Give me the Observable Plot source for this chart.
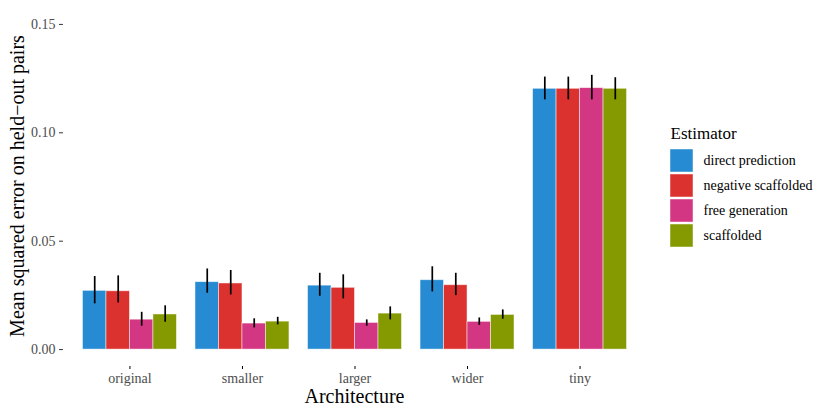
<!DOCTYPE html>
<html>
<head>
<meta charset="utf-8">
<script src="https://cdn.jsdelivr.net/npm/d3@7"></script>
<script src="https://cdn.jsdelivr.net/npm/@observablehq/plot@0.6"></script>
<style>
  body { margin: 0; background: #fff; }
  #wrap { position: relative; width: 830px; height: 415px; font-family: "Liberation Serif", "DejaVu Serif", serif; }
  #wrap > svg { position: absolute; left: 0; top: 0; }
  #wrap > svg.leg { left: 670px; top: 122px; }
  .title { position: absolute; color: #000; font-size: 20px; white-space: nowrap; font-family: "Liberation Serif", serif; }
  #xtitle { left: 0; width: 709px; top: 385px; text-align: center; }
  #ytitle { left: 17px; top: 186px; transform: translate(-50%, -50%) rotate(-90deg); }
</style>
</head>
<body>
<div id="wrap">
  <div id="xtitle" class="title">Architecture</div>
  <div id="ytitle" class="title">Mean squared error on held−out pairs</div>
</div>
<script>
// ---- data ----
const groups = ["original", "smaller", "larger", "wider", "tiny"];
const estimators = ["direct prediction", "negative scaffolded", "free generation", "scaffolded"];
const colors = ["#268bd2", "#dc322f", "#d33682", "#859900"];
const legendTitle = "Estimator";
// mean values per estimator (rows) across groups (columns)
const means = [
  [0.0271, 0.0311, 0.0295, 0.0320, 0.1203],
  [0.0269, 0.0305, 0.0285, 0.0297, 0.1203],
  [0.0138, 0.0120, 0.0123, 0.0128, 0.1206],
  [0.0162, 0.0129, 0.0166, 0.0160, 0.1203]
];
const lowers = [
  [0.0211, 0.0260, 0.0246, 0.0266, 0.1152],
  [0.0215, 0.0252, 0.0234, 0.0249, 0.1152],
  [0.0108, 0.0100, 0.0108, 0.0112, 0.1152],
  [0.0126, 0.0114, 0.0137, 0.0140, 0.1152]
];
const uppers = [
  [0.0337, 0.0372, 0.0352, 0.0382, 0.1257],
  [0.0340, 0.0365, 0.0345, 0.0352, 0.1257],
  [0.0172, 0.0142, 0.0137, 0.0146, 0.1265],
  [0.0202, 0.0149, 0.0197, 0.0183, 0.1254]
];
const yTicks = [0, 0.05, 0.10, 0.15];

// ---- table ----
const rows = [];
estimators.forEach((e, i) => groups.forEach((g, j) => {
  rows.push({group: g, estimator: e, mean: means[i][j], lo: lowers[i][j], hi: uppers[i][j]});
}));

const serif = '"Liberation Serif", serif';

const chart = Plot.plot({
  width: 830,
  height: 415,
  marginLeft: 63,
  marginRight: 184,
  marginTop: 7,
  marginBottom: 49,
  style: {fontFamily: serif, fontSize: "14px", background: "transparent"},
  fx: {domain: groups, paddingInner: 0.165, paddingOuter: 0.173, round: false, axis: "bottom", label: null, tickSize: 3, tickPadding: 4},
  x: {domain: estimators, axis: null, padding: 0, round: false},
  y: {domain: [-0.0078, 0.1578], label: null},
  color: {domain: estimators, range: colors},
  marks: [
    Plot.axisY(yTicks, {tickFormat: ".2f", tickSize: 4, tickPadding: 4, dx: -19.5, label: null, fill: "#4d4d4d", stroke: "#333"}),
    Plot.barY(rows, {fx: "group", x: "estimator", y: "mean", fill: "estimator", stroke: "white", strokeOpacity: 0.6, strokeWidth: 0.8}),
    Plot.ruleX(rows, {fx: "group", x: "estimator", y1: "lo", y2: "hi", stroke: "black", strokeWidth: 1.7})
  ]
});
document.getElementById("wrap").prepend(chart);
chart.querySelectorAll('g[aria-label="fx-axis tick label"], g[aria-label="fx-axis tick label"] text').forEach(n => n.setAttribute("fill", "#4d4d4d"));
chart.querySelectorAll('g[aria-label="fx-axis tick"]').forEach(n => n.setAttribute("stroke", "#333"));

// legend, drawn with Plot
const legend = Plot.plot({
  width: 160, height: 128,
  marginTop: 26, marginBottom: 2, marginLeft: 0, marginRight: 0,
  style: {fontFamily: serif, fontSize: "14px", background: "transparent"},
  x: {type: "band", domain: ["swatch"], range: [0, 23], padding: 0, axis: null},
  y: {domain: estimators, paddingInner: 0.08, paddingOuter: 0.04, axis: null, round: false},
  color: {domain: estimators, range: colors},
  marks: [
    Plot.cell(estimators, {x: () => "swatch", y: d => d, fill: d => d, stroke: "white", strokeOpacity: 0.6, strokeWidth: 0.8}),
    Plot.text(estimators, {x: () => "swatch", y: d => d, text: d => d, textAnchor: "start", dx: 21.5, fill: "black"}),
    Plot.text([legendTitle], {frameAnchor: "top-left", lineAnchor: "middle", textAnchor: "start", dy: -15, text: d => d, fontSize: 17, fill: "black"})
  ]
});
legend.classList.add("leg");
document.getElementById("wrap").appendChild(legend);
</script>
</body>
</html>
